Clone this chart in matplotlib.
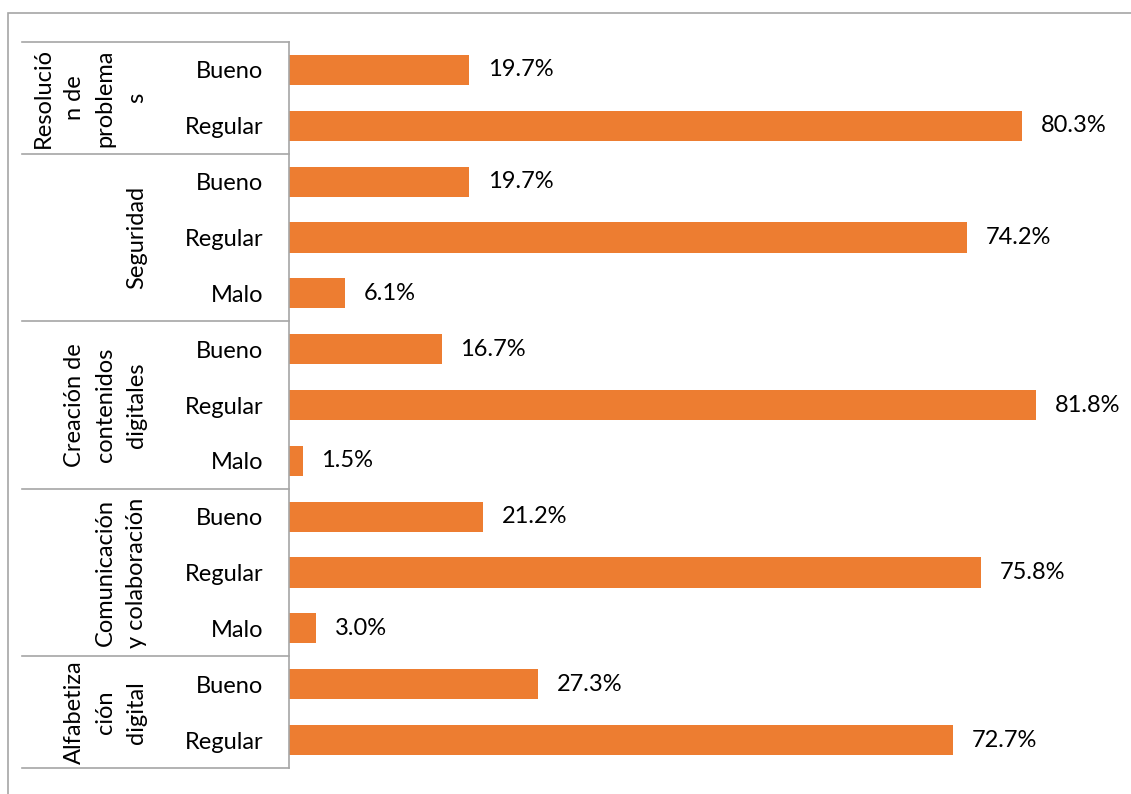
import matplotlib.pyplot as plt
from matplotlib.patches import Rectangle

plt.rcParams['font.family'] = ['Lato', 'DejaVu Sans']

# Data (top to bottom, as in the chart)
groups = ['Resolució\nn de\nproblema\ns', 'Seguridad',
          'Creación de\ncontenidos\ndigitales',
          'Comunicación\ny colaboración', 'Alfabetiza\nción\ndigital']
levels = [['Bueno', 'Regular'],
          ['Bueno', 'Regular', 'Malo'],
          ['Bueno', 'Regular', 'Malo'],
          ['Bueno', 'Regular', 'Malo'],
          ['Bueno', 'Regular']]
values = [[19.7, 80.3],
          [19.7, 74.2, 6.1],
          [16.7, 81.8, 1.5],
          [21.2, 75.8, 3.0],
          [27.3, 72.7]]

bar_color = '#ED7D31'
line_color = '#A6A6A6'
W, H = 1131, 794
fs = 17

fig = plt.figure(figsize=(W / 100, H / 100), dpi=100)
ax = fig.add_axes([289 / W, 26 / H, (1111 - 289) / W, 726 / H])

labels = [l for g in levels for l in g]
vals = [v for g in values for v in g]
ypos = list(range(len(vals)))

ax.barh(ypos, vals, height=0.54, color=bar_color)
for y, v in zip(ypos, vals):
    ax.annotate(f'{v:.1f}%', (v, y), xytext=(13.5, 0), textcoords='offset points',
                va='center', ha='left', fontsize=fs, color='#000000')

ax.set_xlim(0, 90)
ax.set_ylim(len(vals) - 0.5, -0.5)
ax.set_xticks([])
ax.set_yticks(ypos)
ax.set_yticklabels(labels, fontsize=fs)
ax.tick_params(axis='y', length=0, pad=18.5)
for s in ['top', 'right', 'bottom']:
    ax.spines[s].set_visible(False)
ax.spines['left'].set_color(line_color)
ax.spines['left'].set_linewidth(1.2)

# multi-level category axis: group separators and rotated group names
tr = ax.get_yaxis_transform()
x0 = (22 - 289) / (1111 - 289)
xg = (147 - 289) / (1111 - 289)
start = 0
bounds = [-0.5]
for name, lv in zip(groups, levels):
    end = start + len(lv)
    bounds.append(end - 0.5)
    ax.text(xg, (start + end - 1) / 2, name, transform=tr, rotation=90,
            ha='right', va='center', multialignment='center',
            fontsize=fs, linespacing=1.6)
    start = end
for b in bounds:
    ax.plot([x0, 0], [b, b], transform=tr, color=line_color, lw=1.2, clip_on=False)

# outer chart border
fig.add_artist(Rectangle((8 / W, -0.1), 2, 1 - 13 / H + 0.1, transform=fig.transFigure,
                         fill=False, edgecolor=line_color, lw=1.2))

fig.savefig('out.png', dpi=100)
